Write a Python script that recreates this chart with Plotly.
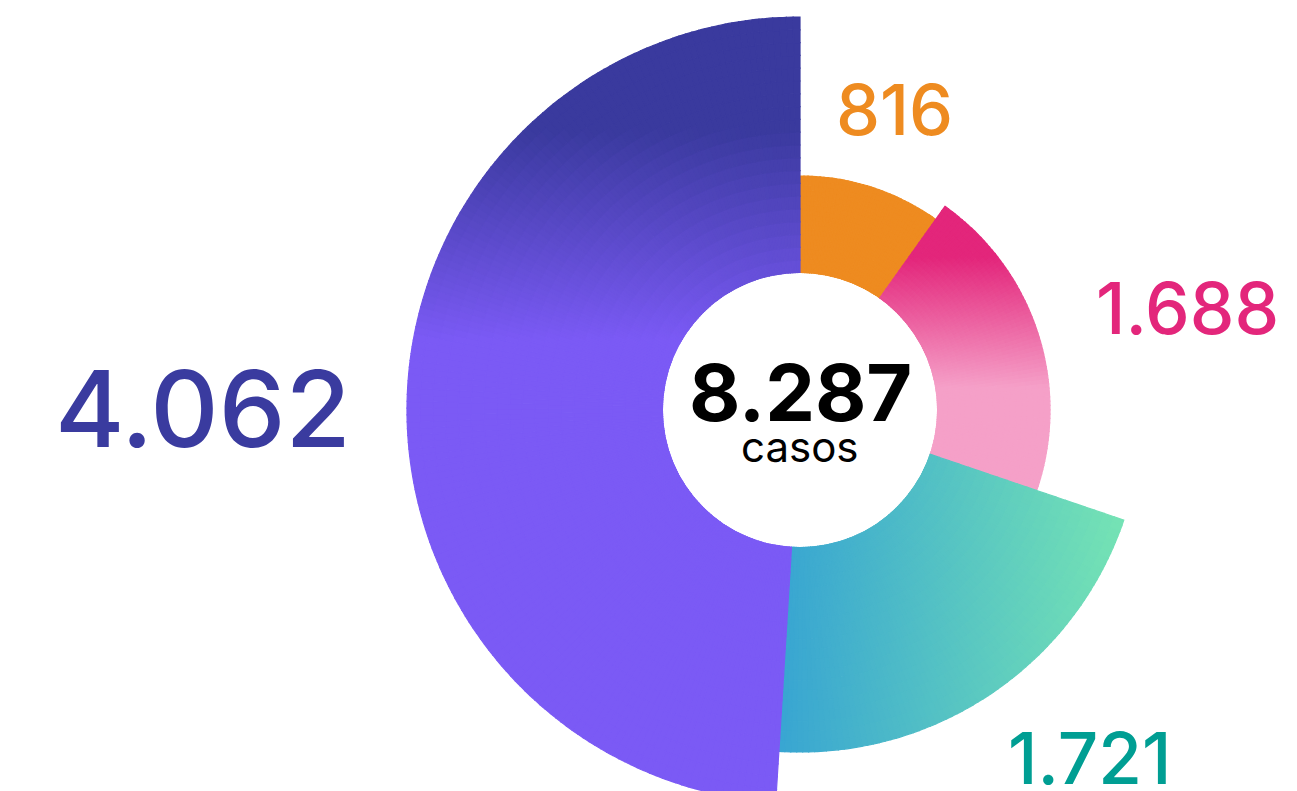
import numpy as np
import plotly.graph_objects as go

# ---- data ----
categorias = ["Grupo 1", "Grupo 2", "Grupo 3", "Grupo 4"]
valores = [816, 1688, 1721, 4062]
# radial length of each wedge (beyond the central hole)
radios = [97, 113, 205, 256]
etiqueta_total = "casos"

# ---- styles ----
colores_texto = ["#ee8b20", "#e3267b", "#009e93", "#3a3b9f"]
gradientes = [
    ("v", [(0.0, "#ee8b20"), (1.0, "#ee8b20")]),
    ("v", [(0.0, "#e3267b"), (0.18, "#e3267b"), (0.64, "#f5a0c8"), (1.0, "#f5a0c8")]),
    ("h", [(0.0, "#38a5d2"), (1.0, "#75e3b4")]),
    ("v", [(0.0, "#3a3a9e"), (0.144, "#3a3a9e"), (0.41, "#7b5af5"), (1.0, "#7b5af5")]),
]
OFF = 8             # page body margin offset
W, H = 1297 - OFF, 806
R_PX = 395          # outer radius of polar area in px
HOLE_PX = 137       # central hole radius in px
R_MAX = R_PX - HOLE_PX
CX, CY = 800 - OFF, 410 - OFF   # centre in px (figure coords)
font = "Inter"


def fmt(n):
    return f"{n:,}".replace(",", ".")


def hex2rgb(h):
    h = h.lstrip("#")
    return np.array([int(h[i:i + 2], 16) for i in (0, 2, 4)], dtype=float)


def interp(stops, t):
    t = min(max(t, 0.0), 1.0)
    for (t0, c0), (t1, c1) in zip(stops[:-1], stops[1:]):
        if t <= t1:
            f = 0 if t1 == t0 else (t - t0) / (t1 - t0)
            c = hex2rgb(c0) * (1 - f) + hex2rgb(c1) * f
            return "rgb(%d,%d,%d)" % tuple(np.round(c))
    c = hex2rgb(stops[-1][1])
    return "rgb(%d,%d,%d)" % tuple(c)


total = sum(valores)
anchos = [v / total * 360 for v in valores]
inicios = np.concatenate([[0], np.cumsum(anchos)[:-1]])

fig = go.Figure()
for i, (cat, v) in enumerate(zip(categorias, valores)):
    a0, aw, rr = inicios[i], anchos[i], radios[i]
    na = max(2, int(np.ceil(aw / 1.0)))
    nr = 20
    th_edges = np.linspace(a0, a0 + aw, na + 1)
    r_edges = np.linspace(0, rr, nr + 1)
    tt = np.radians(np.linspace(a0, a0 + aw, 200))
    pts_r = np.concatenate([np.full(200, HOLE_PX), np.full(200, HOLE_PX + rr)])
    pts_t = np.concatenate([tt, tt])
    xs, ys = pts_r * np.sin(pts_t), pts_r * np.cos(pts_t)
    xmin, xmax, ymin, ymax = xs.min(), xs.max(), ys.min(), ys.max()
    direc, stops = gradientes[i]
    th_c, r_b, w_c, r_len, cols = [], [], [], [], []
    for j in range(na):
        tc = 0.5 * (th_edges[j] + th_edges[j + 1])
        for k in range(nr):
            rc = 0.5 * (r_edges[k] + r_edges[k + 1])
            x = (HOLE_PX + rc) * np.sin(np.radians(tc))
            y = (HOLE_PX + rc) * np.cos(np.radians(tc))
            if direc == "v":
                t = (ymax - y) / (ymax - ymin)
            else:
                t = (x - xmin) / (xmax - xmin)
            th_c.append(tc)
            r_b.append(r_edges[k])
            r_len.append(r_edges[k + 1] - r_edges[k])
            w_c.append(th_edges[j + 1] - th_edges[j])
            cols.append(interp(stops, t))
    fig.add_trace(go.Barpolar(
        r=r_len, base=r_b, theta=th_c, width=w_c,
        marker=dict(color=cols, line=dict(color=cols, width=1.2)),
        name=cat, hoverinfo="skip", showlegend=False,
    ))

# value labels (page px positions)
pos_etiquetas = [(894, 110, 70), (1187, 308, 71), (1090, 758, 71), (203, 408, 106)]
for (px, py, fs), v, c in zip(pos_etiquetas, valores, colores_texto):
    fig.add_annotation(x=(px - OFF) / W, y=1 - (py - OFF) / H, xref="paper", yref="paper",
                       text=fmt(v), showarrow=False, xanchor="center", yanchor="middle",
                       font=dict(family=font, size=fs, color=c, weight=500))

fig.add_annotation(x=CX / W, y=1 - (392 - OFF) / H, xref="paper", yref="paper",
                   text="<b>%s</b>" % fmt(total), showarrow=False,
                   xanchor="center", yanchor="middle",
                   font=dict(family=font, size=79, color="#000000"))
fig.add_annotation(x=CX / W, y=1 - (446 - OFF) / H, xref="paper", yref="paper",
                   text=etiqueta_total, showarrow=False,
                   xanchor="center", yanchor="middle",
                   font=dict(family=font, size=42, color="#000000"))

fig.update_layout(
    width=W, height=H,
    margin=dict(l=0, r=0, t=0, b=0),
    paper_bgcolor="white", plot_bgcolor="white",
    showlegend=False,
    polar=dict(
        domain=dict(x=[(CX - R_PX) / W, (CX + R_PX) / W],
                    y=[1 - (CY + R_PX) / H, 1 - (CY - R_PX) / H]),
        hole=HOLE_PX / R_PX,
        bgcolor="white",
        bargap=0,
        radialaxis=dict(visible=False, range=[0, R_MAX], showgrid=False),
        angularaxis=dict(visible=False, rotation=90, direction="clockwise",
                         showgrid=False, showline=False),
    ),
)
fig.write_html("out.html")
